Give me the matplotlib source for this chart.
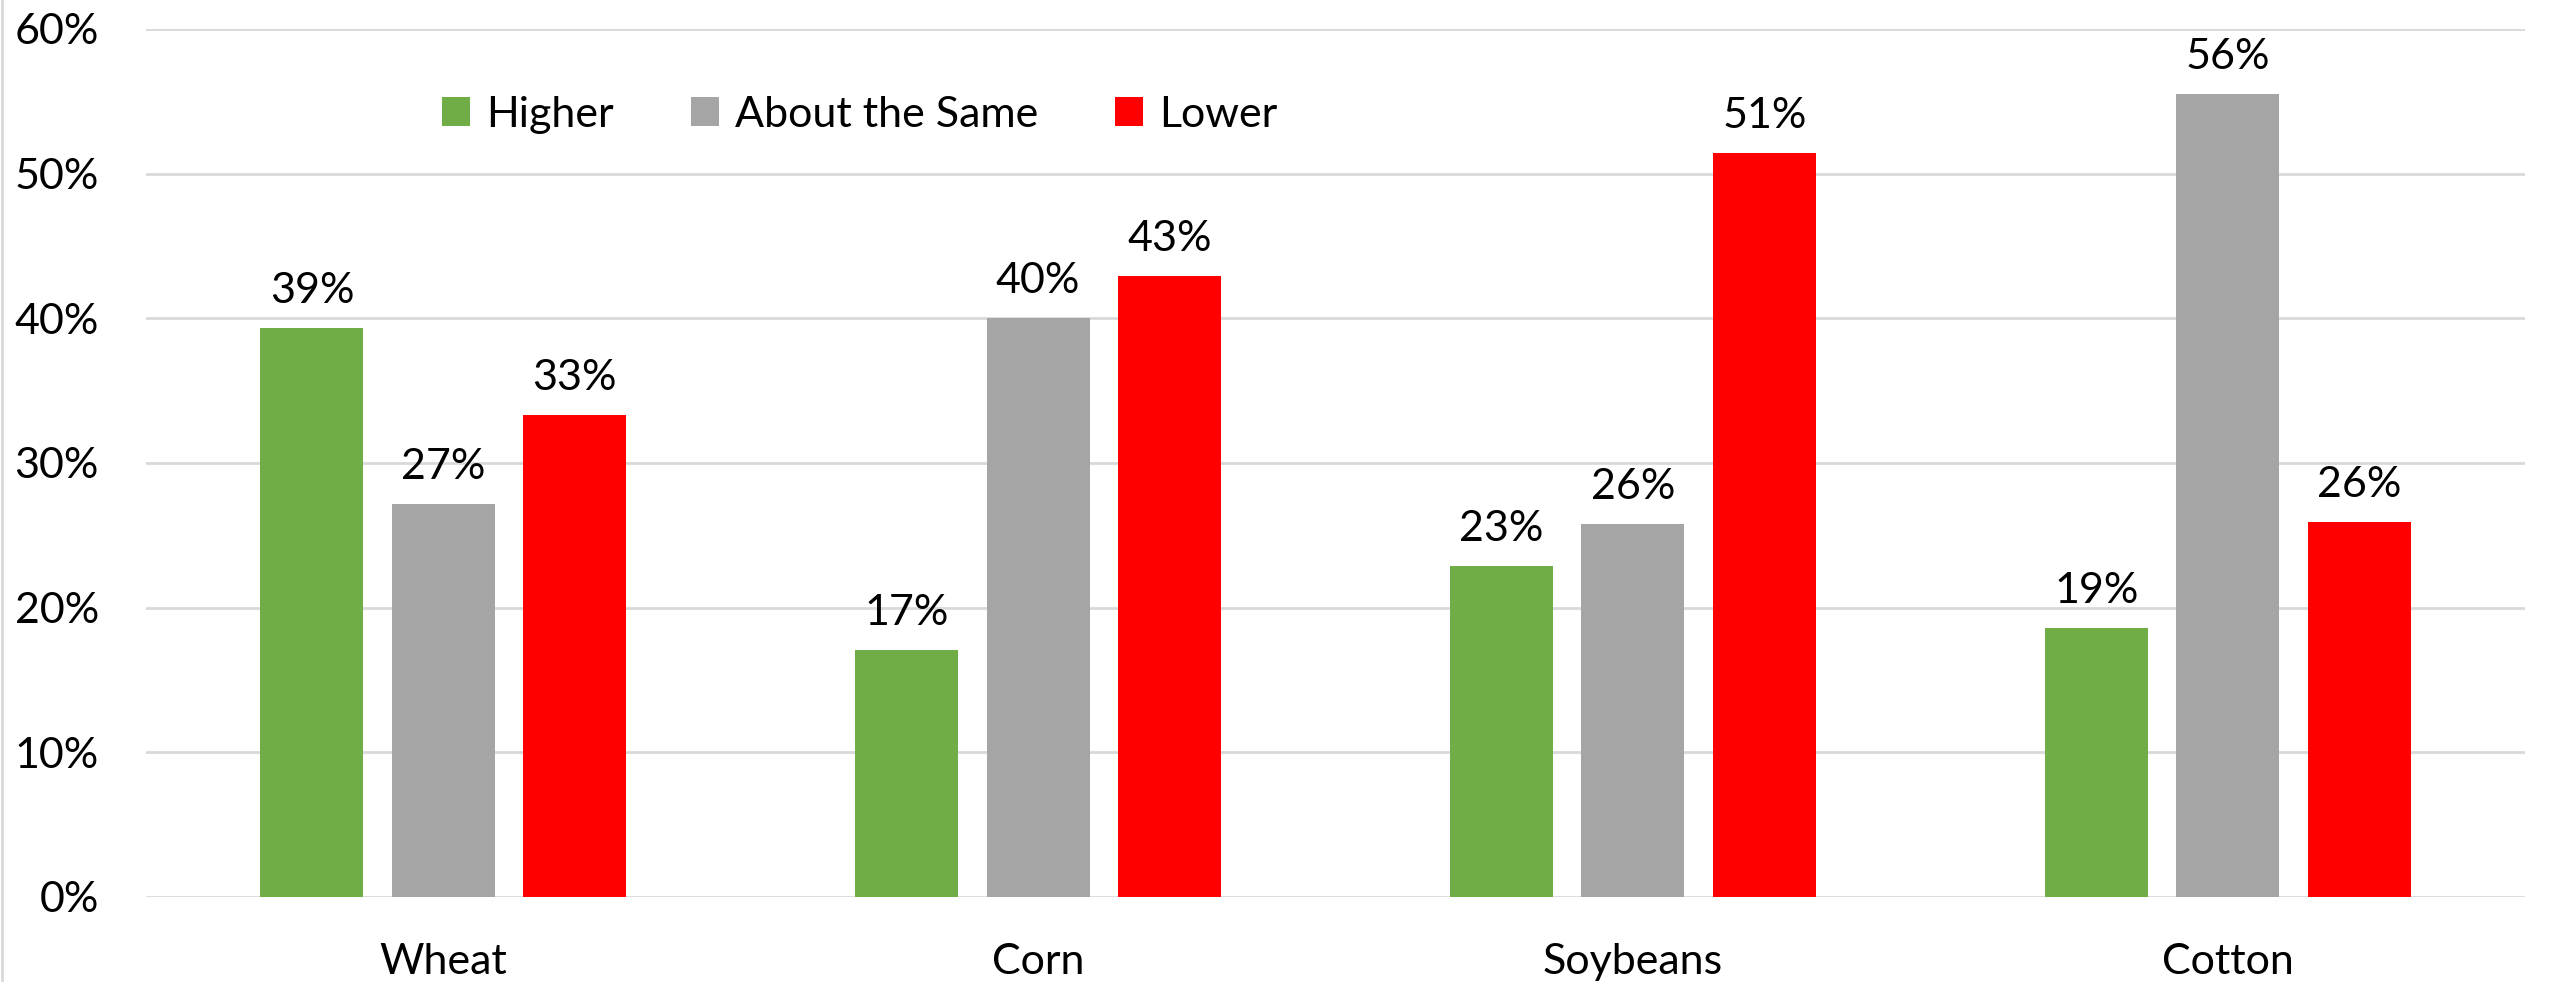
import matplotlib
matplotlib.use("Agg")
import matplotlib.pyplot as plt
import numpy as np
from matplotlib.patches import Patch
from matplotlib.ticker import FuncFormatter

categories = ["Wheat", "Corn", "Soybeans", "Cotton"]
series_names = ["Higher", "About the Same", "Lower"]
higher = [0.393, 0.171, 0.229, 0.186]
same = [0.272, 0.400, 0.258, 0.555]
lower = [0.333, 0.429, 0.514, 0.259]
colors = ["#70AD47", "#A5A5A5", "#FF0000"]
yticks = [0, 0.1, 0.2, 0.3, 0.4, 0.5, 0.6]

plt.rcParams['font.family'] = ['Lato', 'DejaVu Sans']
FS = 31

fig = plt.figure(figsize=(25.52, 9.82), dpi=100)
ax = fig.add_axes([146/2552, 1-897/982, (2525-146)/2552, (897-29)/982])

x = np.arange(len(categories))
width = 0.173
step = 0.221
for i, (vals, c) in enumerate(zip([higher, same, lower], colors)):
    pos = x + (i - 1) * step
    bars = ax.bar(pos, vals, width, color=c, zorder=3)
    for b, v in zip(bars, vals):
        ax.annotate(f"{round(v*100):.0f}%", (b.get_x() + b.get_width()/2, v),
                    xytext=(0, 18), textcoords="offset points",
                    ha="center", va="baseline", fontsize=FS, color="black")

ax.set_xlim(-0.5, len(categories) - 0.5)
ax.set_ylim(0, 0.6)
ax.set_yticks(yticks)
ax.yaxis.set_major_formatter(FuncFormatter(lambda v, p: f"{v*100:.0f}%"))
ax.set_xticks(x)
ax.set_xticklabels(categories)
ax.tick_params(axis="both", length=0, labelsize=FS)
ax.tick_params(axis="y", pad=34)
ax.tick_params(axis="x", pad=33)
ax.grid(axis="y", color="#D9D9D9", linewidth=2, zorder=0)
for s in ax.spines.values():
    s.set_visible(False)

handles = [Patch(facecolor=c, edgecolor="none") for c in colors]
ax.legend(handles, series_names, ncol=3, frameon=False, fontsize=FS,
          loc="center", bbox_to_anchor=(0.300, 0.901),
          handlelength=0.65, handleheight=0.65, handletextpad=0.36,
          columnspacing=1.8, borderpad=0)

fig.add_artist(plt.Line2D([0.0006, 0.0006], [0, 1], color="#D9D9D9", linewidth=2,
                          transform=fig.transFigure))

fig.savefig("out.png", dpi=100, facecolor="white")
